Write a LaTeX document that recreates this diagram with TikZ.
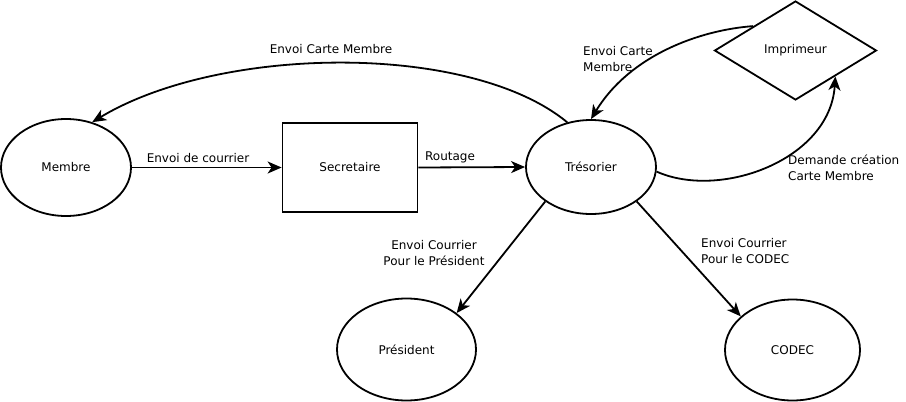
\documentclass[tikz,border=0pt]{standalone}
\usepackage{fontspec}
\setmainfont{DejaVu Sans}
\usetikzlibrary{arrows.meta,shapes.geometric}

\begin{document}
\begin{tikzpicture}[x=1pt, y=-1pt, font=\fontsize{12}{16}\selectfont,
		actor/.style = {ellipse, draw, line width=1.8pt, inner sep=0pt},
		process/.style = {rectangle, draw, line width=1.8pt, minimum width=135pt,
				minimum height=89pt, inner sep=0pt},
		printer/.style = {diamond, draw, line width=1.8pt, minimum width=162pt,
				minimum height=99pt, inner sep=0pt},
		arrow/.style = {-{Stealth[length=14pt, width=12pt, inset=4pt]}, line width=1.8pt},
		flowlabel/.style = {inner sep=0pt, align=left}
	]
	\useasboundingbox (0,0) rectangle (906,402);

	% Nodes
	\node [actor, minimum width=130pt, minimum height=97pt] (M) at (66,167.5) {Membre};
	\node [process] (S) at (350,167.5) {Secretaire};
	\node [actor, minimum width=130pt, minimum height=94pt] (T) at (591,167) {Trésorier};
	\node [printer] (I) at (795.5,50.5) {Imprimeur};
	\node [actor, minimum width=139pt, minimum height=102pt] (P) at (406.5,349.5) {Président};
	\node [actor, minimum width=135pt, minimum height=101pt] (C) at (792.5,350) {CODEC};

	% Arrows
	\draw [arrow] (M.east) -- (S.west);
	\draw [arrow] (S.east) -- (T.west);
	\draw [arrow] (T.118) .. controls (470,42) and (220,45) .. (M.60);
	\draw [arrow] (I.150) .. controls (700,30) and (630,55) .. (T.north);
	\draw [arrow] (T.-4) .. controls (720,200) and (830,160) .. (I.-33);
	\draw [arrow] (T.217) -- (P.36);
	\draw [arrow] (T.-37) -- (C.147);

	% Labels
	\node [flowlabel] (lCourrier) at (198,158) {Envoi de courrier};
	\node [flowlabel] (lRoutage) at (450,157) {Routage};
	\node [flowlabel] (lCarteM) at (331,49) {Envoi Carte Membre};
	\node [flowlabel, anchor=west] (lCarteT) at (583,59) {Envoi Carte\\Membre};
	\node [flowlabel, anchor=west] (lDemande) at (788,168) {Demande création\\Carte Membre};
	\node [flowlabel, align=center] (lPresident) at (434,253) {Envoi Courrier\\Pour le Président};
	\node [flowlabel, anchor=west] (lCodec) at (701,251) {Envoi Courrier\\Pour le CODEC};
\end{tikzpicture}
\end{document}
